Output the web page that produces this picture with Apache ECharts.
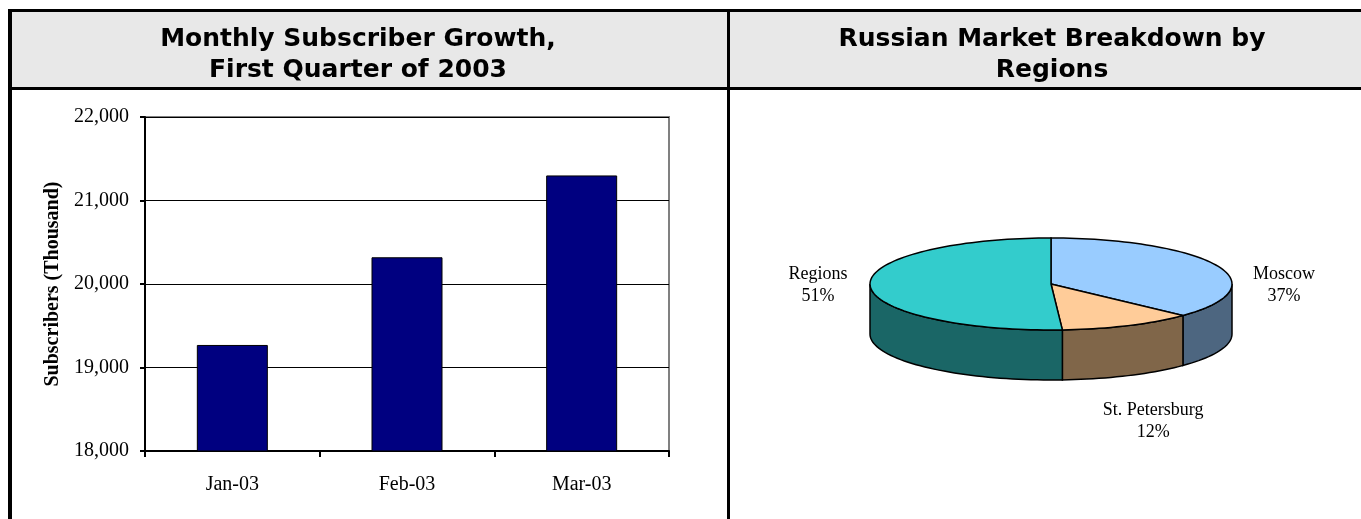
<!DOCTYPE html>
<html>
<head>
<meta charset="utf-8">
<script src="https://cdn.jsdelivr.net/npm/echarts@6/dist/echarts.min.js"></script>
<style>
  html, body { margin: 0; padding: 0; background: #fff; }
  #main { width: 1361px; height: 519px; }
</style>
</head>
<body>
<div id="main"></div>
<script>
// bar chart data
var months = ['Jan-03', 'Feb-03', 'Mar-03']
var subscribers = [19270, 20320, 21300]
var yTicks = [18000, 19000, 20000, 21000, 22000]

// pie data (clockwise from 12 o'clock)
var regionNames = ['Moscow', 'St. Petersburg', 'Regions']
var regionShares = [37, 12, 51]
var topColors = ['#99CCFF', '#FFCC99', '#33CCCC']
var sideColors = ['#4D6680', '#806649', '#1A6666']

var serif = '"Liberation Serif", "Times New Roman", serif'
var headFont = '"DejaVu Sans", Verdana, sans-serif'

// pie geometry
var pie = { cx: 1051, cy: 284, rx: 181, ry: 46, depth: 50 }

function ellPoint(deg, dy) {
  var a = deg * Math.PI / 180
  return [pie.cx + pie.rx * Math.cos(a), pie.cy - pie.ry * Math.sin(a) + (dy || 0)]
}

function arcPoints(from, to, dy) {
  var pts = []
  var n = Math.max(2, Math.ceil(Math.abs(to - from) / 2))
  for (var k = 0; k <= n; k++) {
    pts.push(ellPoint(from + (to - from) * k / n, dy))
  }
  return pts
}

function renderSlice(params, api) {
  var i = params.dataIndex
  var total = regionShares.reduce(function (s, v) { return s + v }, 0)
  var before = 0
  for (var k = 0; k < i; k++) before += regionShares[k]
  var a1 = 90 - before / total * 360
  var a2 = 90 - (before + api.value(0)) / total * 360
  var children = []

  // visible front side lies between -180 and 0 deg
  var s1 = Math.min(a1, 0), s2 = Math.max(a2, -180)
  if (s1 > s2) {
    var upper = arcPoints(s1, s2, 0)
    var lower = arcPoints(s2, s1, pie.depth)
    children.push({
      type: 'polygon',
      z2: 1,
      shape: { points: upper.concat(lower) },
      style: { fill: sideColors[i], stroke: '#000', lineWidth: 1.5 }
    })
  }

  var top = [[pie.cx, pie.cy]].concat(arcPoints(a1, a2, 0))
  children.push({
    type: 'polygon',
    z2: 10,
    shape: { points: top },
    style: { fill: topColors[i], stroke: '#000', lineWidth: 1.5 }
  })

  // label: beside the pie for side slices, below it for front slices
  var mid = (a1 + a2) / 2 * Math.PI / 180
  var cs = Math.cos(mid), sn = Math.sin(mid)
  var lx, ly
  if (Math.abs(cs) > 0.7) {
    lx = pie.cx + (cs > 0 ? 1 : -1) * (pie.rx + 52)
    ly = pie.cy + 1
  } else {
    lx = pie.cx + 240 * cs
    ly = sn < 0 ? pie.cy + pie.depth + 96 * (-sn) : pie.cy - 96 * sn
  }
  children.push({
    type: 'text',
    z2: 20,
    x: lx,
    y: ly,
    style: {
      text: regionNames[i] + '\n' + Math.round(api.value(0)) + '%',
      align: 'center',
      verticalAlign: 'middle',
      font: '18px ' + serif,
      lineHeight: 22,
      fill: '#000'
    }
  })
  return { type: 'group', children: children }
}

var chart = echarts.init(document.getElementById('main'))

var option = {
  backgroundColor: '#fff',
  animation: false,
  graphic: [
    { type: 'rect', shape: { x: 12, y: 12, width: 1349, height: 75 }, style: { fill: '#E8E8E8' }, z: -1 },
    { type: 'rect', shape: { x: 8, y: 9, width: 1353, height: 3 }, style: { fill: '#000' } },
    { type: 'rect', shape: { x: 8, y: 87, width: 1353, height: 3 }, style: { fill: '#000' } },
    { type: 'rect', shape: { x: 8, y: 9, width: 4, height: 510 }, style: { fill: '#000' } },
    { type: 'rect', shape: { x: 727, y: 9, width: 3, height: 510 }, style: { fill: '#000' } }
  ],
  title: [
    {
      text: 'Monthly Subscriber Growth,\nFirst Quarter of 2003',
      left: 353,
      top: 19,
      textAlign: 'center',
      textStyle: { fontFamily: headFont, fontWeight: 'bold', fontSize: 25, lineHeight: 31, color: '#000' }
    },
    {
      text: 'Russian Market Breakdown by\nRegions',
      left: 1047,
      top: 19,
      textAlign: 'center',
      textStyle: { fontFamily: headFont, fontWeight: 'bold', fontSize: 25, lineHeight: 31, color: '#000' }
    }
  ],
  grid: {
    left: 145,
    top: 117,
    width: 524,
    height: 334,
    show: true,
    backgroundColor: '#fff',
    borderColor: '#808080',
    borderWidth: 2
  },
  xAxis: {
    type: 'category',
    data: months,
    boundaryGap: true,
    axisLine: { lineStyle: { color: '#000', width: 2 } },
    axisTick: { show: true, inside: false, length: 6, lineStyle: { color: '#000', width: 2 } },
    axisLabel: { color: '#000', fontFamily: serif, fontSize: 20, margin: 24 }
  },
  yAxis: {
    type: 'value',
    min: yTicks[0],
    max: yTicks[yTicks.length - 1],
    interval: yTicks[1] - yTicks[0],
    name: 'Subscribers (Thousand)',
    nameLocation: 'middle',
    nameRotate: 90,
    nameGap: 82,
    nameTextStyle: { color: '#000', fontFamily: serif, fontWeight: 'bold', fontSize: 20 },
    axisLine: { show: true, lineStyle: { color: '#000', width: 2 } },
    axisTick: { show: true, inside: false, length: 5, lineStyle: { color: '#000', width: 2 } },
    axisLabel: {
      color: '#000', fontFamily: serif, fontSize: 20, margin: 16,
      formatter: function (v) { return v.toLocaleString('en-US') }
    },
    splitLine: { show: true, lineStyle: { color: '#000', width: 1 } }
  },
  series: [
    {
      type: 'bar',
      data: subscribers,
      barWidth: 71,
      itemStyle: { color: '#000080', borderColor: '#000', borderWidth: 1 }
    },
    {
      type: 'custom',
      coordinateSystem: 'none',
      data: regionShares,
      renderItem: renderSlice
    }
  ]
}

chart.setOption(option)
</script>
</body>
</html>
